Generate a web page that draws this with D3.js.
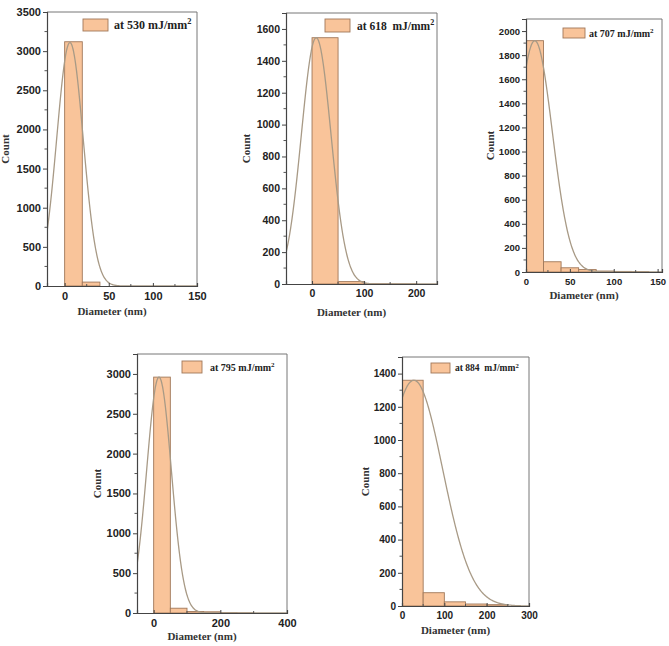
<!DOCTYPE html>
<html><head><meta charset="utf-8">
<script src="https://cdn.jsdelivr.net/npm/d3@7"></script>
<style>body{margin:0;background:#fff}svg{display:block}text{white-space:pre}</style>
</head><body>
<svg id="c" width="669" height="646"></svg>
<script>
// ---- data ----
const fluences = ["530", "618", "707", "795", "884"];
const unitSpacing = [" ", "  ", " ", " ", "  "];
const binStarts1 = [0, 20];           const counts1 = [3120, 50];
const binStarts2 = [0, 50, 100, 150]; const counts2 = [1545, 15, 2, 1];
const binStarts3 = [0, 20, 40, 60, 80, 100, 120]; const counts3 = [1920, 85, 35, 20, 8, 5, 3];
const binStarts4 = [0, 50, 100, 150, 200, 250]; const counts4 = [2960, 60, 18, 15, 5, 2];
const binStarts5 = [0, 50, 100, 150, 200]; const counts5 = [1360, 80, 25, 12, 8];
const binWidths = [20, 50, 20, 50, 50];
// Gaussian fit parameters
const fitMean  = [6, 8, 10, 16, 28];
const fitSigma = [15, 28.5, 20, 37, 68];
const fitPeak  = [3110, 1545, 1920, 2960, 1360];
// axis domains and ticks
const xDomains = [[-20, 150], [-50, 240], [0, 155], [-50, 400], [0, 300]];
const yDomains = [[0, 3500], [0, 1700], [0, 2100], [0, 3250], [0, 1500]];
const xTicks = [[0, 50, 100, 150], [0, 100, 200], [0, 50, 100, 150], [0, 200, 400], [0, 100, 200, 300]];
const yTicks = [
  [0, 500, 1000, 1500, 2000, 2500, 3000, 3500],
  [0, 200, 400, 600, 800, 1000, 1200, 1400, 1600],
  [0, 200, 400, 600, 800, 1000, 1200, 1400, 1600, 1800, 2000],
  [0, 500, 1000, 1500, 2000, 2500, 3000],
  [0, 200, 400, 600, 800, 1000, 1200, 1400]
];
const binStarts = [binStarts1, binStarts2, binStarts3, binStarts4, binStarts5];
const counts = [counts1, counts2, counts3, counts4, counts5];

// ---- layout ----
const layout = [
  {l: 47, r: 197, t: 12, b: 286, tick: 11, leg: [83, 19, 25, 12, 114, 12], cx: 41, dy: 26},
  {l: 286, r: 437, t: 13, b: 284, tick: 10.5, leg: [325, 19, 25, 13, 357, 11.5], cx: 39, dy: 29},
  {l: 526, r: 662, t: 19, b: 272, tick: 9.5, leg: [563, 28, 22, 10, 589, 10], cx: 35, dy: 24},
  {l: 137, r: 287, t: 354, b: 613, tick: 11, leg: [182, 361, 20, 12, 210, 10], cx: 39, dy: 24},
  {l: 402, r: 529, t: 357, b: 606, tick: 10, leg: [431, 363, 19, 10, 455, 9.5], cx: 36, dy: 25}
];
const barFill = "#f9c49a", barStroke = "#a0785a", curveColor = "#a89a86";
const sans = "'Liberation Sans', Arial, sans-serif";
const serif = "'Liberation Serif', 'Times New Roman', serif";

const svg = d3.select("#c");

layout.forEach((L, i) => {
  const x = d3.scaleLinear().domain(xDomains[i]).range([L.l, L.r]);
  const y = d3.scaleLinear().domain(yDomains[i]).range([L.b, L.t]);
  const g = svg.append("g");
  const clipId = "clip" + i;
  svg.append("clipPath").attr("id", clipId).append("rect")
    .attr("x", L.l).attr("y", L.t).attr("width", L.r - L.l).attr("height", L.b - L.t);

  // bars
  const bins = binStarts[i].map((s, k) => ({s, c: counts[i][k]}));
  g.append("g").attr("clip-path", `url(#${clipId})`).selectAll("rect").data(bins).join("rect")
    .attr("x", d => x(d.s)).attr("width", d => x(d.s + binWidths[i]) - x(d.s))
    .attr("y", d => y(d.c)).attr("height", d => y(0) - y(d.c))
    .attr("fill", barFill).attr("stroke", barStroke).attr("stroke-width", 0.9);

  // fit curve
  const xs = d3.range(xDomains[i][0], xDomains[i][1] + 0.001, (xDomains[i][1] - xDomains[i][0]) / 300);
  const gauss = v => fitPeak[i] * Math.exp(-Math.pow(v - fitMean[i], 2) / (2 * fitSigma[i] * fitSigma[i]));
  g.append("path").attr("clip-path", `url(#${clipId})`)
    .datum(xs).attr("d", d3.line().x(v => x(v)).y(v => y(gauss(v))).curve(d3.curveBasis))
    .attr("fill", "none").attr("stroke", curveColor).attr("stroke-width", 1.3);

  // frame top/right
  g.append("line").attr("x1", L.l).attr("x2", L.r).attr("y1", L.t).attr("y2", L.t).attr("stroke", "#777").attr("stroke-width", 1);
  g.append("line").attr("x1", L.r).attr("x2", L.r).attr("y1", L.t).attr("y2", L.b).attr("stroke", "#777").attr("stroke-width", 1);

  // y axis
  const yStep = yTicks[i][1] - yTicks[i][0];
  const yMinor = d3.range(yStep / 2, yDomains[i][1], yStep).filter(v => v % yStep !== 0);
  const ya = g.append("g").attr("transform", `translate(${L.l},0)`)
    .call(d3.axisLeft(y).tickValues(yTicks[i]).tickSize(4).tickPadding(2).tickFormat(d3.format("d")));
  ya.select(".domain").attr("stroke", "#444").attr("stroke-width", 1.2);
  ya.selectAll(".tick line").attr("stroke", "#444");
  ya.selectAll("text").attr("font-family", sans).attr("font-weight", "bold").attr("font-size", L.tick).attr("fill", "#222");
  g.append("g").selectAll("line").data(yMinor).join("line")
    .attr("x1", L.l - 2.5).attr("x2", L.l).attr("y1", d => y(d)).attr("y2", d => y(d)).attr("stroke", "#555");

  // x axis
  const xStep = xTicks[i][1] - xTicks[i][0];
  const xMinor = d3.range(xTicks[i][0] - xStep / 2, xDomains[i][1], xStep).filter(v => v > xDomains[i][0]);
  const xa = g.append("g").attr("transform", `translate(0,${L.b})`)
    .call(d3.axisBottom(x).tickValues(xTicks[i]).tickSize(-3).tickPadding(6).tickFormat(d3.format("d")));
  xa.select(".domain").attr("stroke", "#444").attr("stroke-width", 1.2);
  xa.selectAll(".tick line").attr("stroke", "#444");
  xa.selectAll("text").attr("font-family", sans).attr("font-weight", "bold").attr("font-size", L.tick).attr("fill", "#222");
  g.append("g").selectAll("line").data(xMinor).join("line")
    .attr("x1", d => x(d)).attr("x2", d => x(d)).attr("y1", L.b - 2).attr("y2", L.b).attr("stroke", "#555");

  // axis titles
  g.append("text").attr("transform", `translate(${L.l - L.cx},${(L.t + L.b) / 2}) rotate(-90)`)
    .attr("text-anchor", "middle").attr("dominant-baseline", "middle")
    .attr("font-family", serif).attr("font-weight", "bold").attr("font-size", 11).attr("fill", "#333").text("Count");
  g.append("text").attr("x", (L.l + L.r) / 2 - 10).attr("y", L.b + L.dy)
    .attr("text-anchor", "middle").attr("dominant-baseline", "middle")
    .attr("font-family", serif).attr("font-weight", "bold").attr("font-size", 11).attr("fill", "#333").text("Diameter (nm)");

  // legend
  const [lx, ly, lw, lh, tx, fs] = L.leg;
  g.append("rect").attr("x", lx).attr("y", ly).attr("width", lw).attr("height", lh)
    .attr("fill", barFill).attr("stroke", barStroke).attr("stroke-width", 0.9);
  const t = g.append("text").attr("x", tx).attr("y", ly + lh / 2 + fs * 0.35)
    .attr("font-family", serif).attr("font-weight", "bold").attr("font-size", fs).attr("fill", "#222");
  t.append("tspan").text("at " + fluences[i] + unitSpacing[i] + "mJ/mm");
  t.append("tspan").attr("dy", -fs * 0.4).attr("font-size", fs * 0.7).text("2");
});
</script>
</body></html>
